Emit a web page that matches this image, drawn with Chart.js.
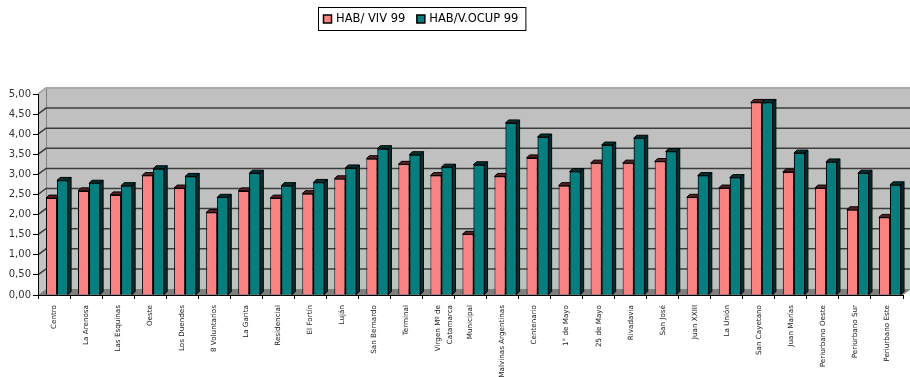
<!DOCTYPE html>
<html><head><meta charset="utf-8">
<script src="https://cdn.jsdelivr.net/npm/chart.js@4/dist/chart.umd.min.js"></script>
<style>html,body{margin:0;padding:0;background:#fff;}canvas{display:block;}</style>
</head><body>
<canvas id="c" width="910" height="377"></canvas>
<script>
const categories = ['Centro','La Arenosa','Las Esquinas','Oeste','Los Duendes','8 Voluntarios','La Garita','Residencial','El Fortín','Luján','San Bernardo','Terminal',['Virgen Mº de','Catamarca'],'Municipal','Malvinas Argentinas','Centenario','1° de Mayo','25 de Mayo','Rivadavia','San José','Juan XXIII','La Unión','San Cayetano','Juan Marías','Periurbano Oeste','Periurbano Sur','Periurbano Este'];
const habViv =  [2.41,2.59,2.49,2.97,2.66,2.05,2.59,2.41,2.52,2.89,3.39,3.25,2.97,1.51,2.95,3.41,2.72,3.28,3.28,3.32,2.43,2.66,4.79,3.06,2.66,2.12,1.93];
const habOcup = [2.85,2.78,2.72,3.14,2.95,2.43,3.03,2.72,2.80,3.16,3.64,3.49,3.18,3.24,4.28,3.93,3.07,3.73,3.90,3.57,2.97,2.92,4.79,3.53,3.31,3.03,2.74];
const seriesLabels = ['HAB/ VIV 99','HAB/V.OCUP 99'];
const yMin = 0, yMax = 5, yStep = 0.5;

const faceColors = ['#FF8080','#008080'];
const capColors = ['#5a2020','#003434'];
const DX = 8, DY = 6;   // wall depth
const BD = 3;           // bar depth
const SHIFT = 3;

const wallPlugin = {
  id: 'wall',
  beforeDraw(chart) {
    const ctx = chart.ctx, a = chart.chartArea, ys = chart.scales.y;
    const L = a.left, R = a.right, T = a.top, B = a.bottom;
    ctx.save();
    ctx.fillStyle = '#c0c0c0';
    ctx.fillRect(L + DX, T - DY, R - L, B - T);
    ctx.fillStyle = '#c4c4c4';
    ctx.beginPath(); ctx.moveTo(L, T); ctx.lineTo(L + DX, T - DY); ctx.lineTo(L + DX, B - DY); ctx.lineTo(L, B); ctx.closePath(); ctx.fill();
    ctx.strokeStyle = '#808080'; ctx.lineWidth = 1;
    ctx.beginPath(); ctx.moveTo(L + DX + 0.5, T - DY); ctx.lineTo(L + DX + 0.5, B - DY); ctx.stroke();
    ctx.fillStyle = '#808080';
    ctx.beginPath(); ctx.moveTo(L, B); ctx.lineTo(L + DX, B - DY); ctx.lineTo(R + DX, B - DY); ctx.lineTo(R, B); ctx.closePath(); ctx.fill();
    ys.ticks.forEach(t => {
      if (t.value === yMin) return;
      const y = ys.getPixelForValue(t.value);
      ctx.strokeStyle = t.value === yMax ? '#a8a8a8' : '#3c3c3c';
      ctx.lineWidth = t.value === yMax ? 2 : 1.5;
      ctx.beginPath(); ctx.moveTo(L, y); ctx.lineTo(L + DX, y - DY); ctx.lineTo(R + DX, y - DY); ctx.stroke();
    });
    ctx.restore();
  },
  beforeDatasetsDraw(chart) { chart.ctx.save(); chart.ctx.translate(SHIFT, 0); },
  afterDatasetsDraw(chart) {
    const ctx = chart.ctx;
    const drawCaps = (el, di) => {
      const p = el.getProps(['x','y','base','width'], true);
      const l = p.x - p.width / 2, r = p.x + p.width / 2, y = p.y, b = p.base;
      ctx.fillStyle = capColors[di]; ctx.strokeStyle = '#000'; ctx.lineWidth = 1;
      ctx.beginPath(); ctx.moveTo(l, y); ctx.lineTo(l + BD, y - BD); ctx.lineTo(r + BD, y - BD); ctx.lineTo(r, y); ctx.closePath(); ctx.fill(); ctx.stroke();
      ctx.beginPath(); ctx.moveTo(r, y); ctx.lineTo(r + BD, y - BD); ctx.lineTo(r + BD, b - BD); ctx.lineTo(r, b); ctx.closePath(); ctx.fill(); ctx.stroke();
    };
    const m0 = chart.getDatasetMeta(0), m1 = chart.getDatasetMeta(1);
    m0.data.forEach(el => drawCaps(el, 0));
    m1.data.forEach(el => { el.draw(ctx); drawCaps(el, 1); });
    ctx.restore();
  },
  afterDraw(chart) {
    const ctx = chart.ctx;
    ctx.save();
    ctx.font = '11.5px "DejaVu Sans"';
    ctx.textBaseline = 'middle';
    const bx = 318, by = 7, bh = 23;
    let x = bx + 5;
    const items = seriesLabels.map((s, i) => ({s, i, w: ctx.measureText(s).width}));
    const totalW = items.reduce((acc, it) => acc + 13 + it.w, 0) + 5 + 11 + 7;
    ctx.strokeStyle = '#000'; ctx.lineWidth = 1;
    ctx.strokeRect(bx + 0.5, by + 0.5, totalW, bh);
    const cy = by + bh / 2 + 0.5;
    items.forEach(it => {
      ctx.fillStyle = faceColors[it.i];
      ctx.fillRect(x + 0.5, cy - 4, 8, 8);
      ctx.strokeStyle = '#000'; ctx.lineWidth = 1.5;
      ctx.strokeRect(x + 0.5, cy - 4, 8, 8);
      ctx.fillStyle = '#000';
      ctx.fillText(it.s, x + 13, cy);
      x += 13 + it.w + 11;
    });
    ctx.restore();
  }
};

new Chart(document.getElementById('c'), {
  type: 'bar',
  data: {
    labels: categories,
    datasets: [
      {label: seriesLabels[0], data: habViv, backgroundColor: faceColors[0], borderColor: '#000', borderWidth: 1},
      {label: seriesLabels[1], data: habOcup, backgroundColor: faceColors[1], borderColor: '#000', borderWidth: 1}
    ]
  },
  options: {
    responsive: false,
    devicePixelRatio: 1,
    animation: false,
    layout: {padding: {top: 94, right: 7, left: 0, bottom: 0}},
    datasets: {bar: {categoryPercentage: 0.69, barPercentage: 1.0}},
    plugins: {legend: {display: false}, tooltip: {enabled: false}},
    scales: {
      x: {
        afterFit(s) { s.height = 82; },
        grid: {offset: true, drawOnChartArea: false, tickLength: 4, color: '#000'},
        border: {color: '#000', width: 1},
        ticks: {minRotation: 90, maxRotation: 90, autoSkip: false, color: '#222', padding: 6,
                font: {family: '"DejaVu Sans"', size: 7.2, lineHeight: 1.6}}
      },
      y: {
        min: yMin, max: yMax,
        afterFit(s) { s.width = 38; },
        grid: {drawOnChartArea: false, tickLength: 5, color: '#000'},
        border: {color: '#000', width: 1},
        ticks: {stepSize: yStep, color: '#333', padding: 2,
                font: {family: '"DejaVu Sans"', size: 10},
                callback: v => Number(v).toFixed(2).replace('.', ',')}
      }
    }
  },
  plugins: [wallPlugin]
});
</script>
</body></html>
